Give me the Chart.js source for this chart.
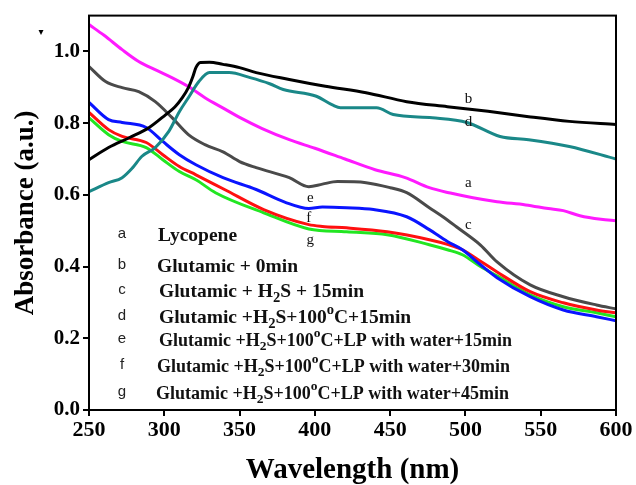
<!DOCTYPE html>
<html><head><meta charset="utf-8">
<script src="https://cdn.jsdelivr.net/npm/chart.js@4/dist/chart.umd.min.js"></script>
<style>html,body{margin:0;padding:0;background:#fff}#wrap{width:636px;height:485px;position:relative}</style>
</head><body><div id="wrap"><canvas id="c"></canvas></div>
<script>
// ---- data ----
const wlA  = [250,260,272,283,295,305,316,327,340,350,365,383,400,420,440,460,476,490,505,521,540,555,565,576,590,600];
const absA = [1.075,1.045,1.005,0.972,0.947,0.927,0.902,0.871,0.84,0.816,0.785,0.754,0.73,0.70,0.67,0.648,0.62,0.605,0.592,0.581,0.572,0.562,0.556,0.542,0.532,0.528];

const wlB  = [250,263,277,290,301,307,312,316,319,321,324,330,339,350,361,383,407,434,461,488,515,542,569,600];
const absB = [0.698,0.732,0.76,0.788,0.824,0.845,0.871,0.899,0.93,0.955,0.969,0.970,0.964,0.955,0.941,0.922,0.903,0.885,0.86,0.846,0.833,0.818,0.805,0.796];

const wlC  = [250,261,272,283,294,305,316,327,339,350,361,383,396,405,415,434,450,461,476,488,494,510,521,543,565,587,600];
const absC = [0.958,0.916,0.899,0.888,0.86,0.816,0.768,0.74,0.72,0.693,0.676,0.648,0.623,0.63,0.637,0.634,0.62,0.606,0.564,0.53,0.511,0.46,0.413,0.349,0.316,0.293,0.282];

const wlD  = [250,263,272,279,285,294,303,310,316,323,330,343,357,370,379,401,412,417,441,452,478,501,523,542,569,600];
const absD = [0.609,0.634,0.648,0.676,0.707,0.732,0.777,0.832,0.871,0.916,0.941,0.941,0.927,0.91,0.894,0.875,0.85,0.843,0.843,0.824,0.815,0.802,0.763,0.754,0.735,0.70];

const wlE  = [250,263,272,288,299,310,321,339,361,380,396,405,421,439,461,476,488,498,510,521,543,565,587,600];
const absE = [0.858,0.81,0.802,0.788,0.749,0.712,0.684,0.648,0.615,0.58,0.562,0.566,0.564,0.559,0.539,0.503,0.47,0.447,0.405,0.369,0.316,0.279,0.26,0.249];

const wlF  = [250,263,272,288,299,310,321,340,366,396,405,421,448,476,488,498,510,521,543,565,587,600];
const absF = [0.830,0.782,0.763,0.746,0.712,0.679,0.656,0.615,0.559,0.517,0.512,0.508,0.497,0.475,0.462,0.447,0.415,0.385,0.33,0.299,0.279,0.271];

const wlG  = [250,263,272,288,299,310,321,334,366,396,421,448,476,488,498,510,521,543,565,587,600];
const absG = [0.815,0.768,0.749,0.732,0.698,0.665,0.642,0.606,0.55,0.505,0.497,0.489,0.461,0.447,0.433,0.40,0.374,0.321,0.288,0.271,0.26];

const seriesLetters = ['a','b','c','d','e','f','g'];
const legendLabels = [
  'Lycopene',
  'Glutamic + 0min',
  'Glutamic + H_2S + 15min',
  'Glutamic +H_2S+100^oC+15min',
  'Glutamic +H_2S+100^oC+LP with water+15min',
  'Glutamic +H_2S+100^oC+LP with water+30min',
  'Glutamic +H_2S+100^oC+LP with water+45min'
];
// curve tags placed in data coordinates (wavelength, absorbance)
const tagLetters = ['b','d','a','c','e','f','g'];
const tagWl      = [502,502,502,502,397,396,397];
const tagAbs     = [0.866,0.804,0.634,0.517,0.592,0.536,0.475];

const xTicks = [250,300,350,400,450,500,550,600];
const yTicks = [0.0,0.2,0.4,0.6,0.8,1.0];
const xTitle = 'Wavelength (nm)';
const yTitle = 'Absorbance (a.u.)';

// ---- chart ----
const colors = {a:'#ff1aff', b:'#000000', c:'#4a4a4a', d:'#1a8888', e:'#0a14ff', f:'#ff1010', g:'#22e622'};
const pts = (w,v)=>w.map((x,i)=>({x:x,y:v[i]}));
const seriesData = {a:pts(wlA,absA), b:pts(wlB,absB), c:pts(wlC,absC), d:pts(wlD,absD), e:pts(wlE,absE), f:pts(wlF,absF), g:pts(wlG,absG)};
// drawing order: first listed is on top
const order = ['b','d','a','c','e','f','g'];
const datasets = order.map(k=>({
  label:k, data:seriesData[k], borderColor:colors[k], backgroundColor:colors[k],
  borderWidth:3, pointRadius:0, fill:false, cubicInterpolationMode:'monotone'
}));

const SERIF = '"Liberation Serif","Times New Roman",serif';

function drawRich(ctx, str, x, y, size){
  const parts = str.split(/(_\w|\^\w)/).filter(s=>s.length);
  let cx = x;
  parts.forEach(p=>{
    if(p[0]==='_'){
      ctx.font = 'bold '+(size*0.75)+'px '+SERIF;
      ctx.fillText(p.slice(1), cx, y+size*0.3);
      cx += ctx.measureText(p.slice(1)).width;
    } else if(p[0]==='^'){
      ctx.font = 'bold '+(size*0.75)+'px '+SERIF;
      ctx.fillText(p.slice(1), cx, y-size*0.4);
      cx += ctx.measureText(p.slice(1)).width;
    } else {
      ctx.font = 'bold '+size+'px '+SERIF;
      ctx.fillText(p, cx, y);
      cx += ctx.measureText(p).width;
    }
  });
}

const decor = {
  id:'decor',
  afterDraw(chart){
    const ctx = chart.ctx, a = chart.chartArea;
    const xs = chart.scales.x, ys = chart.scales.y;
    ctx.save();
    ctx.strokeStyle = '#000'; ctx.lineWidth = 2;
    ctx.strokeRect(a.left, a.top, a.right-a.left, a.bottom-a.top);
    // small mark at top-left corner of the figure
    ctx.fillStyle = '#000';
    ctx.font = '10px "DejaVu Sans",sans-serif';
    ctx.textAlign = 'center'; ctx.textBaseline = 'middle';
    ctx.fillText('\u25BE', 41, 32);
    // curve tags
    ctx.fillStyle = '#111';
    ctx.font = '15px '+SERIF;
    tagLetters.forEach((t,i)=>{
      ctx.fillText(t, xs.getPixelForValue(tagWl[i]), ys.getPixelForValue(tagAbs[i]));
    });
    // legend
    const rowsY = [236,267,292,318,341,367,394];
    const sizes = [19.5,19.5,19.5,19.5,18,18,18];
    const textX = [158,157,159,159,159,157,156];
    seriesLetters.forEach((l,i)=>{
      ctx.fillStyle = '#222';
      ctx.font = '15px "Liberation Sans","DejaVu Sans",sans-serif';
      ctx.fillText(l, 122, rowsY[i]-2);
    });
    ctx.textAlign = 'left';
    ctx.fillStyle = '#111';
    legendLabels.forEach((s,i)=>drawRich(ctx, s, textX[i], rowsY[i], sizes[i]));
    ctx.restore();
  }
};

new Chart(document.getElementById('c'), {
  type:'line',
  data:{datasets},
  options:{
    responsive:true, maintainAspectRatio:false, animation:false,
    layout:{padding:{left:0, right:20, top:15, bottom:0}},
    plugins:{legend:{display:false}, tooltip:{enabled:false}},
    scales:{
      x:{
        type:'linear', min:250, max:600,
        afterBuildTicks:s=>{s.ticks = xTicks.map(v=>({value:v}));},
        afterFit:s=>{s.height = 75;},
        ticks:{color:'#000', font:{family:SERIF, size:22, weight:'bold'}, padding:1, maxRotation:0, autoSkip:false,
               callback:v=>String(v)},
        grid:{drawOnChartArea:false, tickLength:6, color:'#000', lineWidth:2},
        border:{display:true, color:'#000', width:2},
        title:{display:true, text:xTitle, color:'#000', font:{family:SERIF, size:29, weight:'bold', lineHeight:1.0}, padding:{top:0,bottom:0}}
      },
      y:{
        type:'linear', min:0, max:1.1,
        afterBuildTicks:s=>{s.ticks = yTicks.map(v=>({value:v}));},
        afterFit:s=>{s.width = 89;},
        ticks:{color:'#000', font:{family:SERIF, size:21, weight:'bold'}, padding:3, autoSkip:false,
               callback:v=>Number(v).toFixed(1)},
        grid:{drawOnChartArea:false, tickLength:6, color:'#000', lineWidth:2},
        border:{display:true, color:'#000', width:2},
        title:{display:true, text:yTitle, color:'#000', font:{family:SERIF, size:27, weight:'bold'}, padding:{top:10,bottom:0}}
      }
    }
  },
  plugins:[decor]
});
</script>
</body></html>
